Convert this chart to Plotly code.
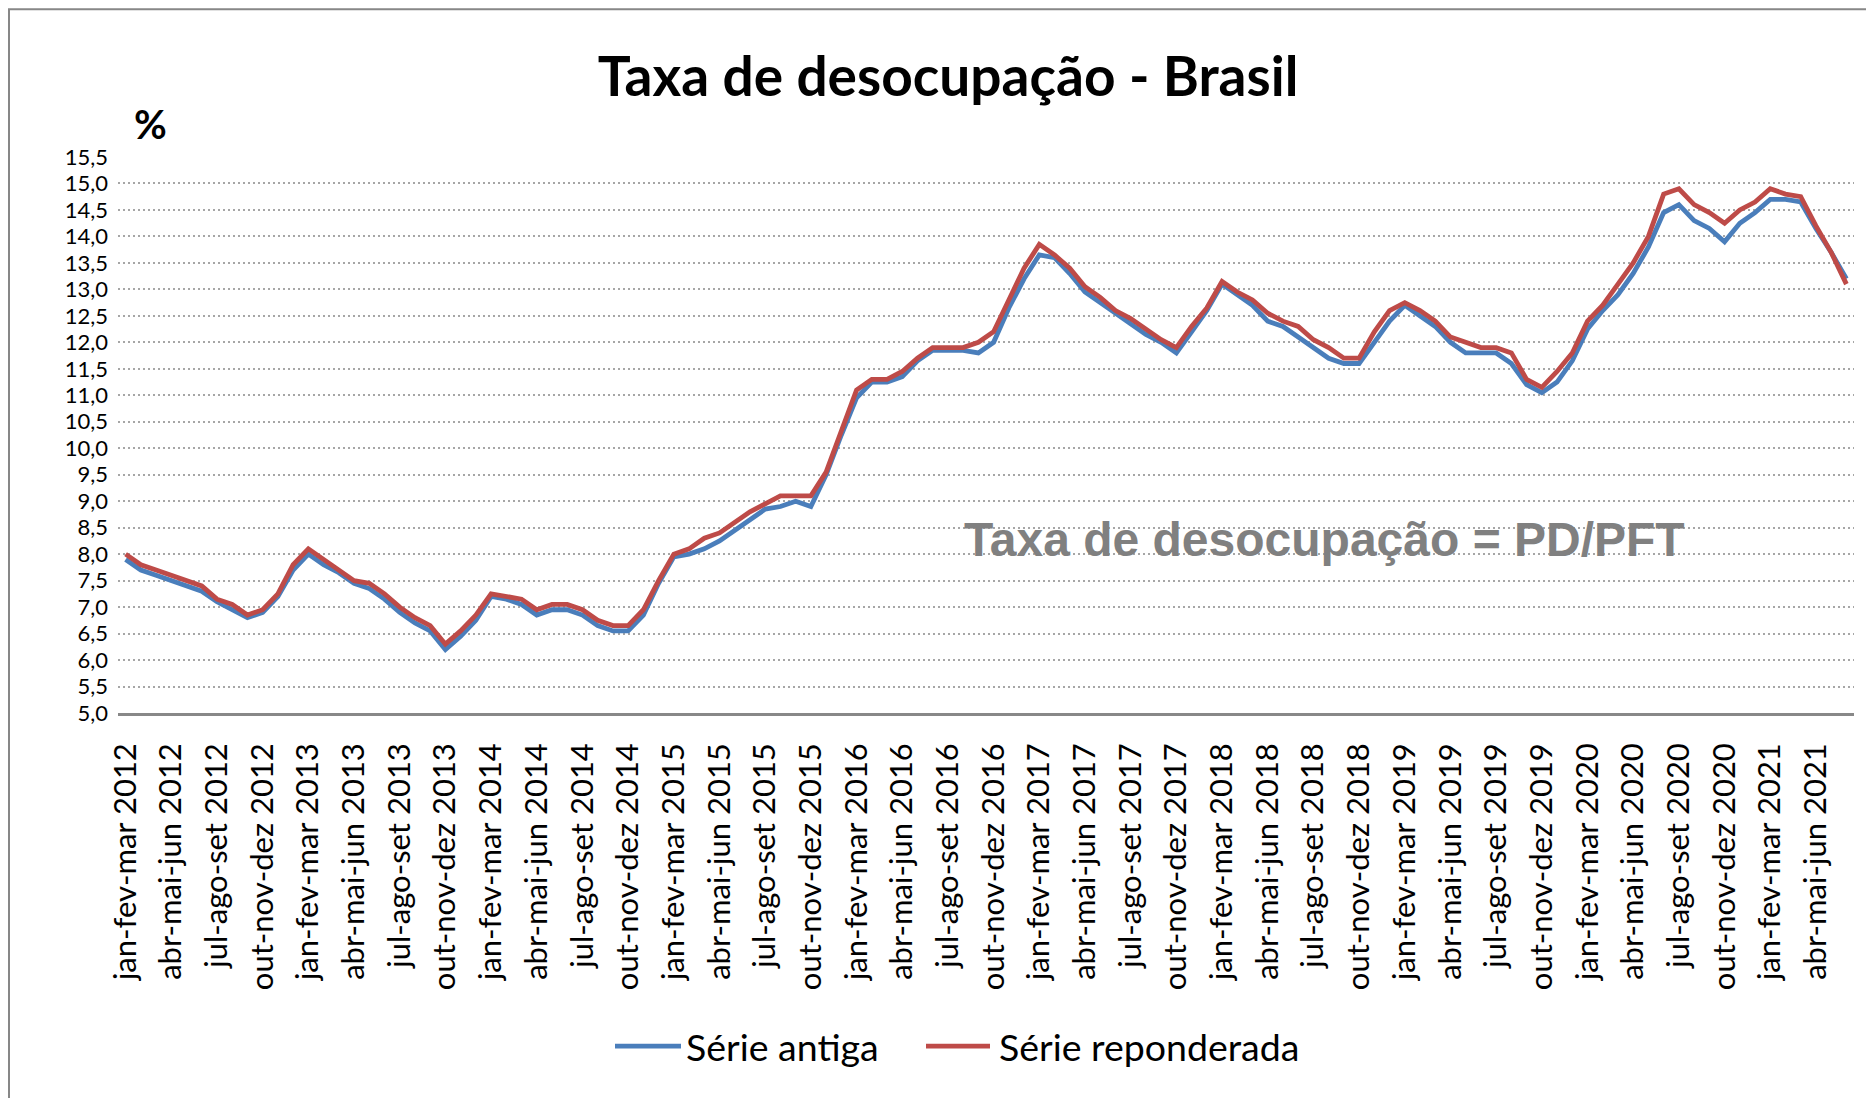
import plotly.graph_objects as go

# ---------------- data ----------------
months = ["jan", "fev", "mar", "abr", "mai", "jun", "jul", "ago", "set", "out", "nov", "dez"]
start_year = 2012
n_points = 114

serie_antiga = [
    7.9, 7.7, 7.6, 7.5, 7.4, 7.3, 7.1, 6.95, 6.8, 6.9, 7.2, 7.7,
    8.0, 7.8, 7.65, 7.45, 7.35, 7.15, 6.9, 6.7, 6.55, 6.2, 6.45, 6.75,
    7.2, 7.15, 7.05, 6.85, 6.95, 6.95, 6.85, 6.65, 6.55, 6.55, 6.85, 7.45,
    7.95, 8.0, 8.1, 8.25, 8.45, 8.65, 8.85, 8.9, 9.0, 8.9, 9.5, 10.25,
    10.95, 11.25, 11.25, 11.35, 11.65, 11.85, 11.85, 11.85, 11.8, 12.0, 12.65, 13.2,
    13.65, 13.6, 13.3, 12.95, 12.75, 12.55, 12.35, 12.15, 12.0, 11.8, 12.2, 12.6,
    13.1, 12.9, 12.7, 12.4, 12.3, 12.1, 11.9, 11.7, 11.6, 11.6, 12.0, 12.4,
    12.7, 12.5, 12.3, 12.0, 11.8, 11.8, 11.8, 11.6, 11.2, 11.05, 11.25, 11.65,
    12.25, 12.6, 12.9, 13.3, 13.8, 14.45, 14.6, 14.3, 14.15, 13.9, 14.25, 14.45,
    14.7, 14.7, 14.65, 14.15, 13.7, 13.2,
]

serie_reponderada = [
    8.0, 7.8, 7.7, 7.6, 7.5, 7.4, 7.15, 7.05, 6.85, 6.95, 7.25, 7.8,
    8.1, 7.9, 7.7, 7.5, 7.45, 7.25, 7.0, 6.8, 6.65, 6.3, 6.55, 6.85,
    7.25, 7.2, 7.15, 6.95, 7.05, 7.05, 6.95, 6.75, 6.65, 6.65, 6.95, 7.5,
    8.0, 8.1, 8.3, 8.4, 8.6, 8.8, 8.95, 9.1, 9.1, 9.1, 9.55, 10.35,
    11.1, 11.3, 11.3, 11.45, 11.7, 11.9, 11.9, 11.9, 12.0, 12.2, 12.8, 13.4,
    13.85, 13.65, 13.4, 13.05, 12.85, 12.6, 12.45, 12.25, 12.05, 11.9, 12.3, 12.65,
    13.15, 12.95, 12.8, 12.55, 12.4, 12.3, 12.05, 11.9, 11.7, 11.7, 12.2, 12.6,
    12.75, 12.6, 12.4, 12.1, 12.0, 11.9, 11.9, 11.8, 11.3, 11.15, 11.45, 11.8,
    12.4, 12.7, 13.1, 13.5, 14.0, 14.8, 14.9, 14.6, 14.45, 14.25, 14.5, 14.65,
    14.9, 14.8, 14.75, 14.2, 13.7, 13.1,
]

y_tick_values = [5.0, 5.5, 6.0, 6.5, 7.0, 7.5, 8.0, 8.5, 9.0, 9.5, 10.0, 10.5,
                 11.0, 11.5, 12.0, 12.5, 13.0, 13.5, 14.0, 14.5, 15.0, 15.5]
y_tick_labels = [f"{v:.1f}".replace(".", ",") for v in y_tick_values]

# category names (rolling quarters)
categories = []
for i in range(n_points):
    m0 = i % 12
    ms = [months[(m0 + k) % 12] for k in range(3)]
    year = start_year + (i + 2) // 12
    categories.append("-".join(ms) + " " + str(year))
x_tick_labels = categories[::3]

# ---------------- figure ----------------
O = 8                      # page body margin offset
W, H = 1874 - O, 1098 - O
L, R = 118 - O, 20
T = 157 - O
B = H - (713.5 - O)
pw, ph = W - L - R, H - T - B


def px(x):   # page pixel -> paper x
    return (x - O - L) / pw


def py(y):   # page pixel -> paper y
    return (H - B - (y - O)) / ph


BLUE = "#4A7EBB"
RED = "#BE4B48"
FONT = "Lato"

fig = go.Figure()
fig.add_trace(go.Scatter(x=categories, y=serie_antiga, mode="lines", name="Série antiga",
                         line=dict(color=BLUE, width=4.8), showlegend=False))
fig.add_trace(go.Scatter(x=categories, y=serie_reponderada, mode="lines", name="Série reponderada",
                         line=dict(color=RED, width=4.8), showlegend=False))

fig.update_layout(
    width=W, height=H,
    margin=dict(l=L, r=R, t=T, b=B, autoexpand=False),
    paper_bgcolor="white", plot_bgcolor="white",
    font=dict(family=FONT, color="black"),
    title=dict(text="<b>Taxa de desocupação - Brasil</b>", x=(948 - O) / W, xanchor="center",
               y=1 - (77 - O) / H, yanchor="middle", font=dict(size=55, family=FONT, color="black")),
    xaxis=dict(
        type="category", range=[-0.5, n_points - 0.5],
        tickmode="array", tickvals=x_tick_labels, ticktext=x_tick_labels,
        tickangle=-90, tickfont=dict(size=31, family=FONT, color="black"),
        showgrid=False, showline=True, linecolor="#888888", linewidth=2.5,
        ticks="", ticklabelstandoff=15, zeroline=False,
    ),
    yaxis=dict(
        range=[5, 15.5], tickmode="array", tickvals=y_tick_values, ticktext=y_tick_labels,
        tickfont=dict(size=22, family=FONT, color="black"),
        showgrid=True, gridcolor="#A6A6A6", gridwidth=2, griddash="2px,3px",
        showline=False, zeroline=False, ticks="", ticklabelstandoff=9,
    ),
)

# "%" unit label
fig.add_annotation(text="<b>%</b>", xref="paper", yref="paper", x=px(150), y=py(124),
                   xanchor="center", yanchor="middle", showarrow=False,
                   font=dict(size=40, family=FONT, color="black"))

# formula note
fig.add_annotation(text="<b>Taxa de desocupação = PD/PFT</b>", xref="paper", yref="paper",
                   x=px(962), y=py(540), xanchor="left", yanchor="middle", showarrow=False,
                   font=dict(size=48, family="Liberation Sans", color="#808080"))

# legend (manual, Excel style)
leg_y = py(1047)
legend_items = [("Série antiga", BLUE, 615, 681, 684), ("Série reponderada", RED, 926, 990, 997)]
for name, col, lx0, lx1, tx in legend_items:
    fig.add_shape(type="line", xref="paper", yref="paper", x0=px(lx0), x1=px(lx1), y0=leg_y, y1=leg_y,
                  line=dict(color=col, width=4.8))
    fig.add_annotation(text=name, xref="paper", yref="paper", x=px(tx), y=leg_y,
                       xanchor="left", yanchor="middle", showarrow=False,
                       font=dict(size=37.5, family=FONT, color="black"))

# chart-area border
fig.add_shape(type="rect", xref="paper", yref="paper", x0=px(9), x1=px(1874 + 20), y0=py(1098 + 20), y1=py(9),
              line=dict(color="#878787", width=2), fillcolor="rgba(0,0,0,0)", layer="below")

fig.write_html("out.html")
